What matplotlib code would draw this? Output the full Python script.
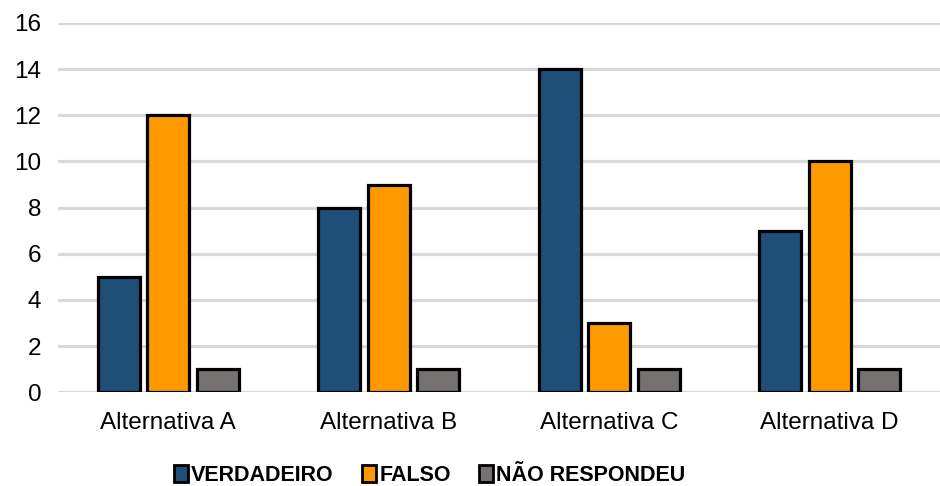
import matplotlib.pyplot as plt
from matplotlib.patches import Patch
import numpy as np

plt.rcParams['font.family'] = ['Liberation Sans', 'DejaVu Sans']

# dados do gráfico
categorias = ['Alternativa A', 'Alternativa B', 'Alternativa C', 'Alternativa D']
verdadeiro = [5, 8, 14, 7]
falso = [12, 9, 3, 10]
nao_respondeu = [1, 1, 1, 1]
series_nomes = ['VERDADEIRO', 'FALSO', 'NÃO RESPONDEU']
yticks = [0, 2, 4, 6, 8, 10, 12, 14, 16]

cores = ['#1F4E79', '#FF9900', '#767171']

fig = plt.figure(figsize=(9.4, 4.86), dpi=100)
ax = fig.add_axes([0.0617, 0.193, 0.9383, 0.7597])

x = np.arange(len(categorias))
largura = 0.19
desloc = 0.225

for i, (vals, cor) in enumerate(zip([verdadeiro, falso, nao_respondeu], cores)):
    ax.bar(x + (i - 1) * desloc, vals, width=largura, color=cor,
           edgecolor='black', linewidth=2.3, zorder=3)

ax.set_xlim(-0.5, len(categorias) - 0.5)
ax.set_ylim(0, 16)
ax.set_yticks(yticks)
ax.set_xticks(x)
ax.set_xticklabels(categorias, fontsize=17.5)
ax.tick_params(axis='y', length=0, pad=12, labelsize=17.5)
ax.tick_params(axis='x', length=0, pad=14)

# grade horizontal
ax.yaxis.grid(True, color='#D9D9D9', linewidth=2.3, zorder=0)
for s in ax.spines.values():
    s.set_visible(False)

# legenda
handles = [Patch(facecolor=c, edgecolor='black', linewidth=2) for c in cores]
fig.legend(handles, series_nomes, loc='center', bbox_to_anchor=(0.457, 0.022),
           ncol=3, frameon=False, handlelength=0.65, handleheight=0.85,
           handletextpad=0.15, columnspacing=1.3,
           prop={'weight': 'bold', 'size': 15.5})

fig.savefig('out.png', dpi=100)
